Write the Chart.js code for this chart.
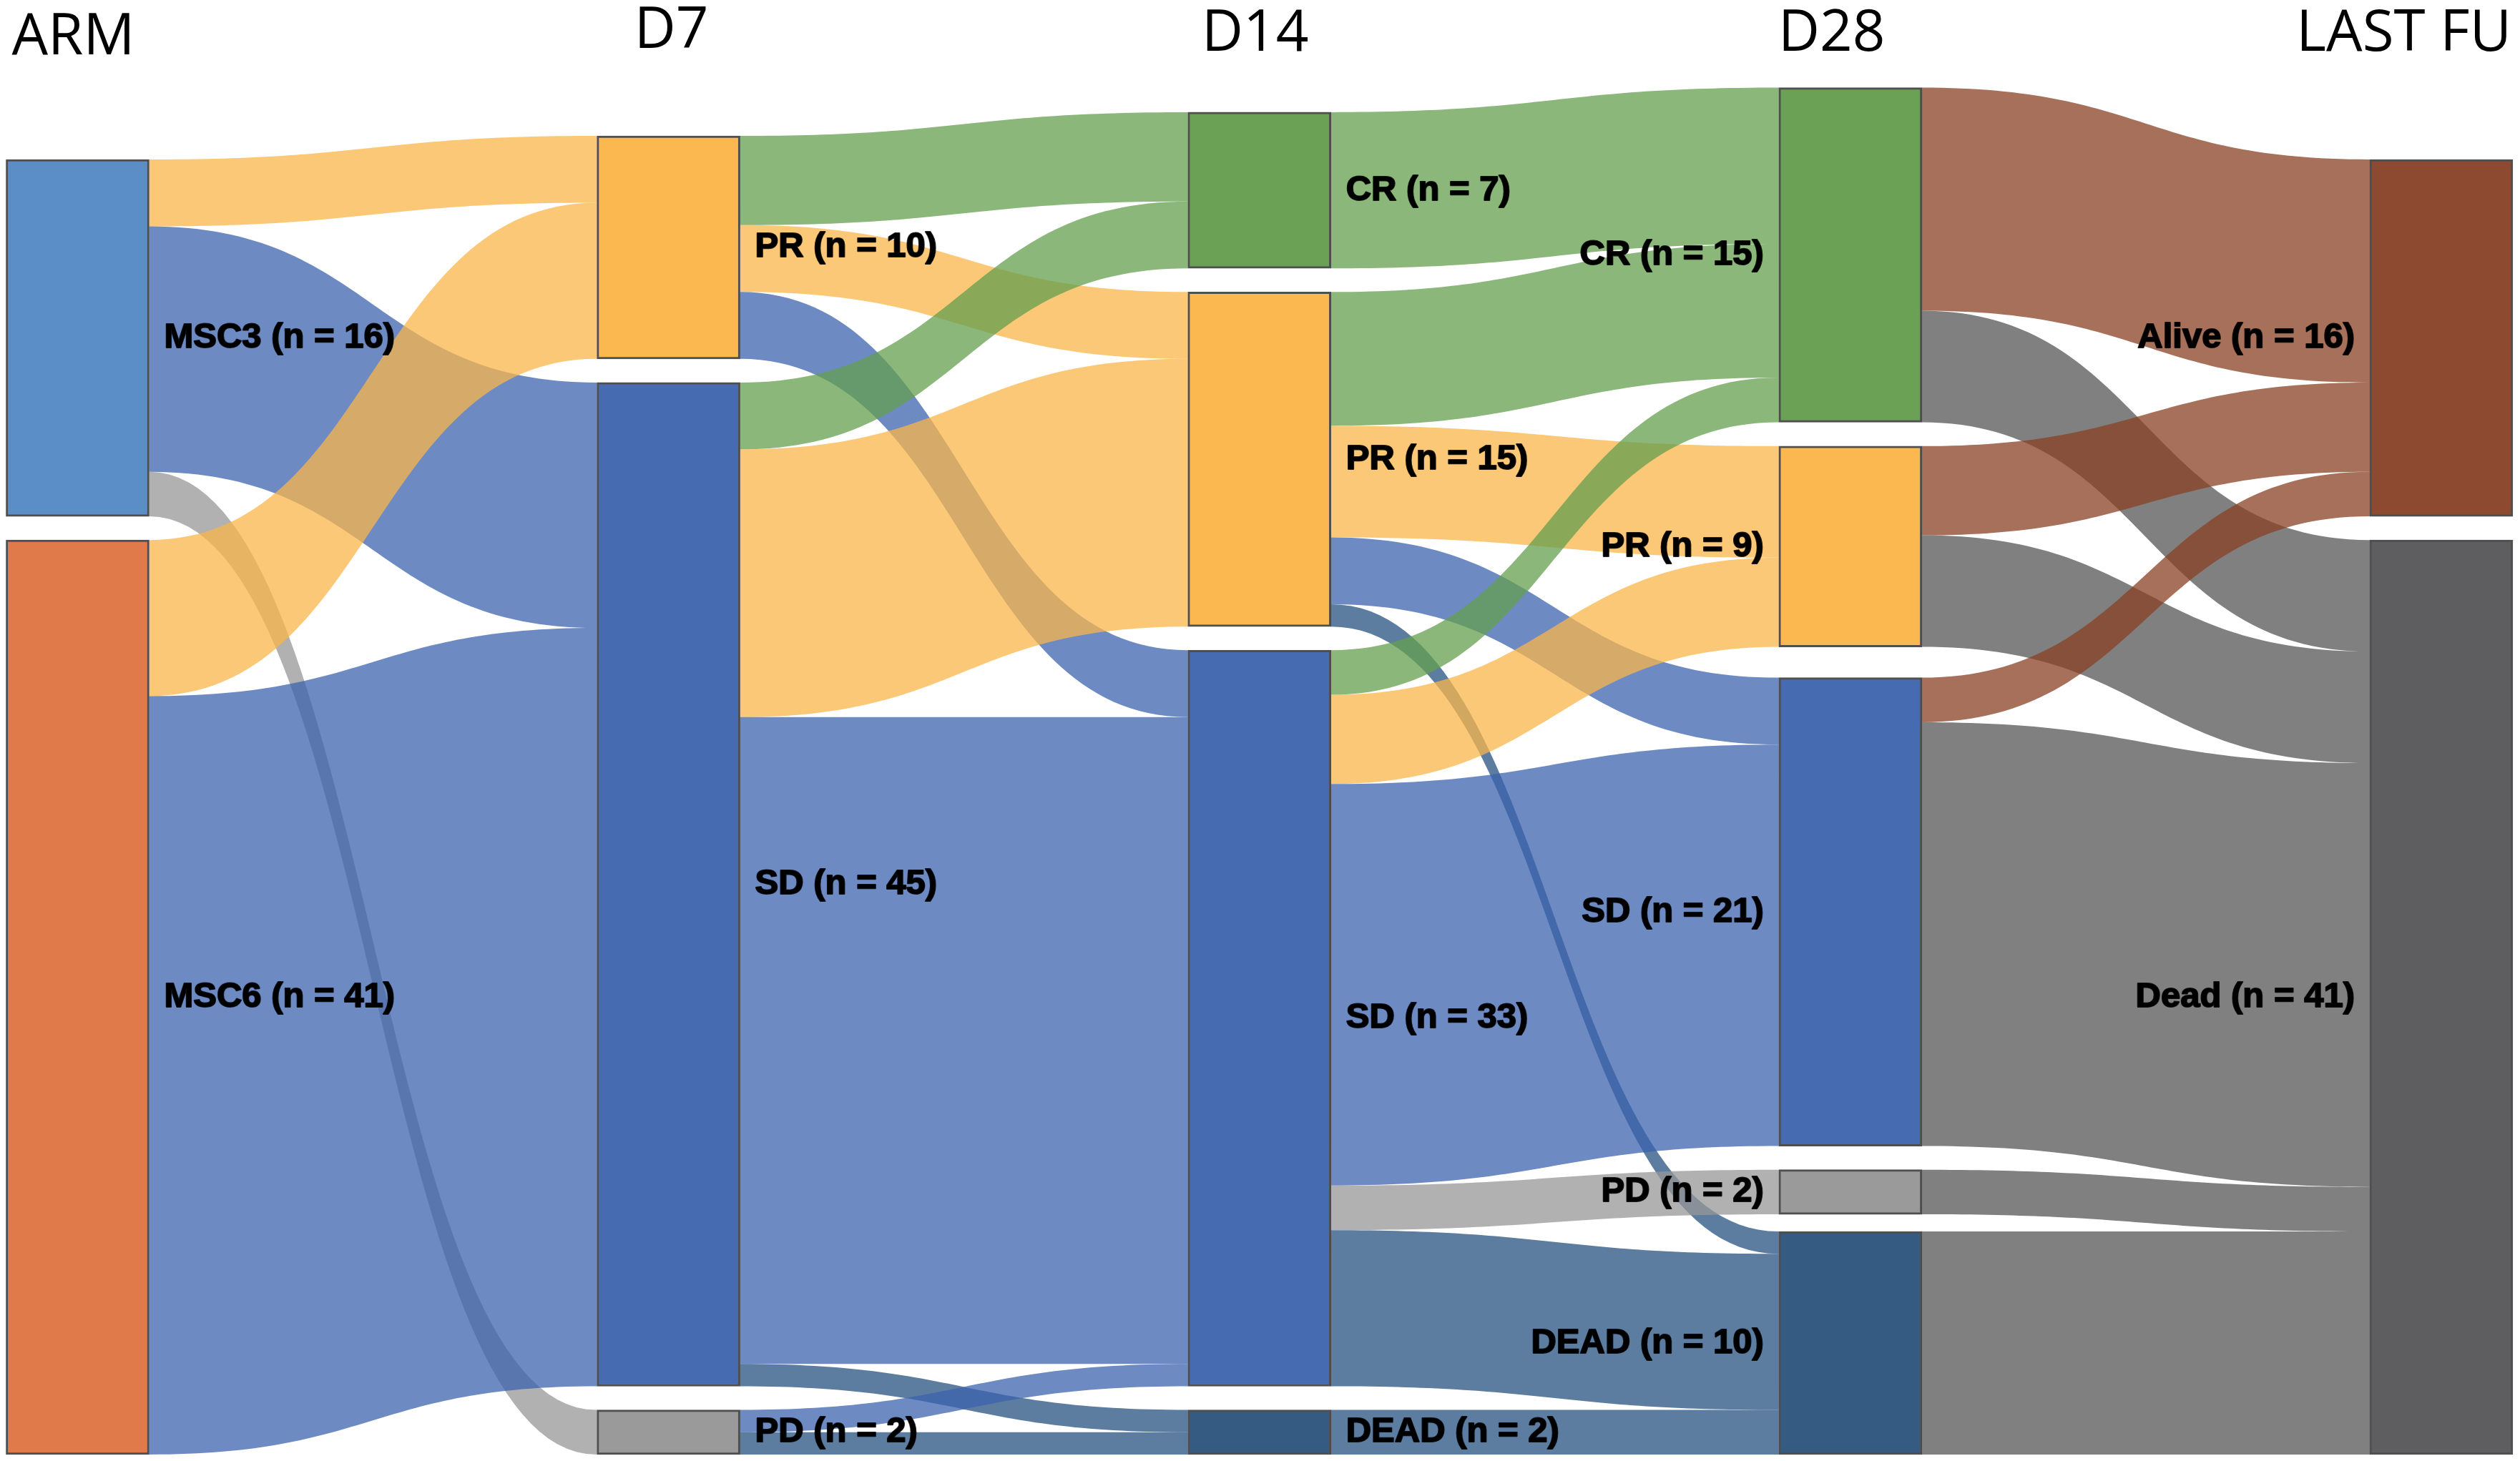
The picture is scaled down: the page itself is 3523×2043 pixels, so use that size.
<!DOCTYPE html>
<html>
<head>
<meta charset="utf-8">
<script src="https://cdn.jsdelivr.net/npm/chart.js@4.4.0/dist/chart.umd.min.js"></script>
<style>
  html, body { margin: 0; padding: 0; background: #fff; }
</style>
</head>
<body>
<canvas id="sankey" width="3523" height="2043"></canvas>
<script>
// time points and the nodes of each one (top to bottom)
var columns = ['ARM', 'D7', 'D14', 'D28', 'LAST FU'];
var armNodes = ['MSC3', 'MSC6'];
var d7Nodes = ['PR', 'SD', 'PD'];
var d14Nodes = ['CR', 'PR', 'SD', 'DEAD'];
var d28Nodes = ['CR', 'PR', 'SD', 'PD', 'DEAD'];
var lastNodes = ['Alive', 'Dead'];

// patients going from a node (row) to each node of the next time point (col)
var armToD7 = [[3, 11, 2], [7, 34, 0]];
var d7ToD14 = [[4, 3, 3, 0], [3, 12, 29, 1], [0, 0, 1, 1]];
var d14ToD28 = [[7, 0, 0, 0, 0], [6, 5, 3, 0, 1], [2, 4, 18, 2, 7], [0, 0, 0, 0, 2]];
var d28ToLast = [[10, 5], [4, 5], [2, 19], [0, 2], [0, 10]];

var nodeColors = {
  MSC3: '#5b8ec6', MSC6: '#e17a4b', PR: '#fbb850', SD: '#476bb1', PD: '#9a9a9a',
  CR: '#6aa154', DEAD: '#355b83', Alive: '#8d4a31', Dead: '#5e5e60'
};
// links take the colour of the node they go to
var linkColors = {
  PR: 'rgba(249,181,74,0.75)', SD: 'rgba(60,99,175,0.75)', PD: 'rgba(151,151,151,0.75)',
  CR: 'rgba(100,159,79,0.75)', DEAD: 'rgba(38,80,128,0.75)',
  Alive: 'rgba(136,64,35,0.75)', Dead: 'rgba(86,86,86,0.75)'
};

var stages = [armNodes, d7Nodes, d14Nodes, d28Nodes, lastNodes];
var links = [armToD7, d7ToD14, d14ToD28, d28ToLast];
// space under each node (except the last), in patients
var gaps = [[1.06], [1.06, 1.06], [1.06, 1.06, 1.06], [1.07, 1.38, 1.06, 0.77], [1.06]];

function nodeCount(c, k) {
  if (c < links.length) {
    return links[c][k].reduce(function(a, b) { return a + b; }, 0);
  }
  return links[c - 1].reduce(function(a, row) { return a + row[k]; }, 0);
}

// stack the nodes of each column from the bottom
var nodes = [];
var nodeIndex = [];
stages.forEach(function(names, c) {
  var y = 0;
  var idx = [];
  for (var k = names.length - 1; k >= 0; k--) {
    var n = nodeCount(c, k);
    var node = { col: c, name: names[k], n: n, lo: y, hi: y + n };
    node.outTop = node.hi;
    node.inTop = node.hi;
    idx[k] = node;
    y += n + (k > 0 ? gaps[c][k - 1] : 0);
  }
  idx.forEach(function(node) { node.i = nodes.length; nodes.push(node); });
  nodeIndex.push(idx);
});

var flows = [];
links.forEach(function(m, c) {
  m.forEach(function(row, i) {
    row.forEach(function(v, j) {
      if (!v) return;
      var s = nodeIndex[c][i], t = nodeIndex[c + 1][j];
      flows.push({ s: s, t: t, s0: s.outTop, s1: s.outTop - v, t0: t.inTop, t1: t.inTop - v, color: linkColors[t.name] });
      s.outTop -= v;
      t.inTop -= v;
    });
  });
});

var flowPlugin = {
  id: 'flows',
  beforeDatasetsDraw: function(chart) {
    var ctx = chart.ctx;
    var y = chart.scales.y;
    var els = chart.getDatasetMeta(0).data;
    ctx.save();
    flows.forEach(function(f) {
      var a = els[f.s.i], b = els[f.t.i];
      var x0 = a.x + a.width / 2, x1 = b.x - b.width / 2, xm = (x0 + x1) / 2;
      var ys0 = y.getPixelForValue(f.s0), ys1 = y.getPixelForValue(f.s1);
      var yt0 = y.getPixelForValue(f.t0), yt1 = y.getPixelForValue(f.t1);
      ctx.beginPath();
      ctx.moveTo(x0, ys0);
      ctx.bezierCurveTo(xm, ys0, xm, yt0, x1, yt0);
      ctx.lineTo(x1, yt1);
      ctx.bezierCurveTo(xm, yt1, xm, ys1, x0, ys1);
      ctx.closePath();
      ctx.fillStyle = f.color;
      ctx.fill();
    });
    ctx.restore();
  },
  afterDatasetsDraw: function(chart) {
    var ctx = chart.ctx;
    var els = chart.getDatasetMeta(0).data;
    ctx.save();
    // node labels, a bit heavier than plain bold
    ctx.fillStyle = '#000';
    ctx.strokeStyle = 'rgba(0,0,0,0.85)';
    ctx.lineWidth = 2;
    ctx.lineJoin = 'round';
    ctx.font = 'bold 49px "Liberation Sans", Arial, sans-serif';
    ctx.textBaseline = 'middle';
    nodes.forEach(function(node) {
      var el = els[node.i];
      var yc = (el.y + el.base) / 2;
      var txt = node.name + ' (n = ' + node.n + ')';
      var tx;
      if (node.col < 3) {
        ctx.textAlign = 'left';
        tx = el.x + el.width / 2 + 21;
      } else {
        ctx.textAlign = 'right';
        tx = el.x - el.width / 2 - 21;
      }
      ctx.strokeText(txt, tx, yc);
      ctx.fillText(txt, tx, yc);
    });
    // column titles
    var x = chart.scales.x;
    var half = els[0].width / 2;
    var align = ['left', 'center', 'center', 'center', 'right'];
    var shift = [-half + 8, 4, -6, -26, half - 2];
    var base = [76, 67, 71, 71, 71];
    ctx.font = '80px "Open Sans", sans-serif';
    ctx.textBaseline = 'alphabetic';
    columns.forEach(function(name, c) {
      ctx.textAlign = align[c];
      ctx.fillText(name, x.getPixelForValue(c) + shift[c], base[c]);
    });
    ctx.restore();
  }
};

var ctx = document.getElementById('sankey').getContext('2d');
var sankeyChart = new Chart(ctx, {
  type: 'bar',
  data: {
    datasets: [{
      data: nodes.map(function(n) { return { x: n.col, y: [n.lo, n.hi] }; }),
      backgroundColor: nodes.map(function(n) { return nodeColors[n.name]; }),
      borderColor: 'rgba(35,35,35,0.8)',
      borderWidth: 3,
      borderSkipped: false,
      barThickness: 200,
      clip: false
    }]
  },
  options: {
    responsive: false,
    animation: false,
    devicePixelRatio: 1,
    layout: { padding: 0 },
    scales: {
      x: { type: 'linear', min: -0.1313, max: 4.1332, offset: false, display: false },
      y: { type: 'linear', min: -0.289, max: 65.21, display: false }
    },
    plugins: {
      legend: { display: false },
      tooltip: { enabled: false }
    }
  },
  plugins: [flowPlugin]
});
</script>
</body>
</html>
